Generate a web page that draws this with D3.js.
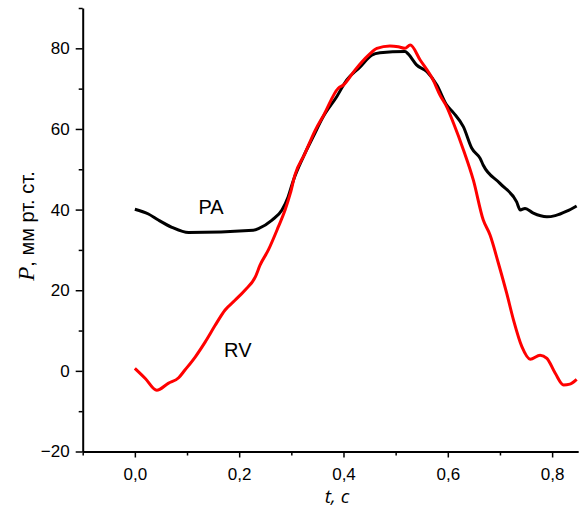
<!DOCTYPE html>
<html>
<head>
<meta charset="utf-8">
<script src="https://cdn.jsdelivr.net/npm/d3@7"></script>
<style>
  body { margin: 0; background: #fff; }
  svg { display: block; }
  .axis text { font-family: "Liberation Sans", Arial, sans-serif; font-size: 17px; fill: #000; }
  .axis path, .axis line { stroke: #000; }
</style>
</head>
<body>
<svg id="chart" width="583" height="510"></svg>
<script>
// time (s) and pressure (mm Hg)
var paTime = [0, 0.026, 0.045, 0.071, 0.103, 0.227, 0.237, 0.263, 0.282, 0.294, 0.304, 0.323, 0.342, 0.361, 0.387,
  0.406, 0.432, 0.454, 0.470, 0.518, 0.524, 0.540, 0.560, 0.579, 0.598, 0.611, 0.630, 0.646, 0.662, 0.668,
  0.700, 0.732, 0.739, 0.748, 0.764, 0.790, 0.806, 0.828, 0.847];
var paValue = [40.1, 38.9, 37.4, 35.6, 34.3, 34.9, 35.3, 37.4, 39.9, 43.2, 47.3, 53.1, 58.1, 63.0, 68.0,
  72.1, 75.4, 78.3, 78.9, 79.2, 78.6, 75.9, 74.2, 70.9, 65.9, 64.0, 60.5, 55.2, 52.7, 51.0,
  46.5, 41.9, 39.9, 40.3, 39.1, 38.2, 38.5, 39.6, 40.9];

var rvTime = [0, 0.020, 0.042, 0.064, 0.084, 0.096, 0.116, 0.135, 0.154, 0.173, 0.192, 0.211, 0.231, 0.240,
  0.256, 0.275, 0.288, 0.298, 0.307, 0.326, 0.346, 0.362, 0.390, 0.400, 0.422, 0.448, 0.464, 0.489, 0.505,
  0.518, 0.528, 0.547, 0.572, 0.585, 0.598, 0.611, 0.630, 0.649, 0.668, 0.681, 0.697, 0.713, 0.726, 0.742,
  0.758, 0.777, 0.790, 0.806, 0.822, 0.834, 0.847];
var rvValue = [0.6, -1.9, -4.8, -3.1, -1.7, 0.2, 3.5, 7.2, 11.3, 15.1, 17.5, 20.0, 23.3, 26.2,
  30.0, 35.7, 39.9, 44.0, 48.6, 53.9, 59.7, 63.4, 70.1, 70.9, 74.6, 78.3, 80.0, 80.6, 80.4,
  80.0, 80.8, 77.1, 72.1, 68.4, 65.5, 61.4, 54.8, 47.3, 37.4, 33.7, 26.7, 19.2, 12.6, 6.0,
  2.9, 3.9, 3.1, -0.6, -3.5, -3.3, -2.1];

var xTicks = [0, 0.2, 0.4, 0.6, 0.8];
var xMinor = [-0.1, 0.1, 0.3, 0.5, 0.7];
var yTicks = [-20, 0, 20, 40, 60, 80];
var yMinor = [-10, 10, 30, 50, 70, 90];

var svg = d3.select("#chart");

var x = d3.scaleLinear().domain([-0.1, 0.85]).range([82.7, 578.2]);
var y = d3.scaleLinear().domain([-20, 90]).range([451.5, 8]);

var fmt = function (d) { return d3.format(".1f")(d).replace(".", ",").replace("-", "\u2212"); };

// minor ticks first, no labels
svg.append("g")
  .attr("class", "axis")
  .attr("transform", "translate(0," + y(-20) + ")")
  .call(d3.axisBottom(x).tickValues(xMinor).tickSize(4).tickFormat(""))
  .call(function (g) { g.select(".domain").remove(); g.selectAll("line").attr("stroke-width", 1.5); });

svg.append("g")
  .attr("class", "axis")
  .attr("transform", "translate(" + x(-0.1) + ",0)")
  .call(d3.axisLeft(y).tickValues(yMinor).tickSize(4).tickFormat(""))
  .call(function (g) { g.select(".domain").remove(); g.selectAll("line").attr("stroke-width", 1.5); });

svg.append("g")
  .attr("class", "axis")
  .attr("transform", "translate(0," + y(-20) + ")")
  .call(d3.axisBottom(x).tickValues(xTicks).tickSize(6).tickSizeOuter(0).tickPadding(10).tickFormat(fmt))
  .call(function (g) {
    g.select(".domain").attr("stroke-width", 2);
    g.selectAll("line").attr("stroke-width", 1.5);
  });

svg.append("g")
  .attr("class", "axis")
  .attr("transform", "translate(" + x(-0.1) + ",0)")
  .call(d3.axisLeft(y).tickValues(yTicks).tickSize(7).tickSizeOuter(0).tickPadding(6)
    .tickFormat(function (d) { return String(d).replace("-", "\u2212"); }))
  .call(function (g) {
    g.select(".domain").attr("stroke-width", 2);
    g.selectAll("line").attr("stroke-width", 1.5);
  });

var line = d3.line()
  .x(function (d) { return x(d[0]); })
  .y(function (d) { return y(d[1]); })
  .curve(d3.curveMonotoneX);

svg.append("path")
  .datum(d3.zip(paTime, paValue))
  .attr("fill", "none")
  .attr("stroke", "#000")
  .attr("stroke-width", 3)
  .attr("stroke-linejoin", "round")
  .attr("d", line);

svg.append("path")
  .datum(d3.zip(rvTime, rvValue))
  .attr("fill", "none")
  .attr("stroke", "#ff0000")
  .attr("stroke-width", 3)
  .attr("stroke-linejoin", "round")
  .attr("d", line);

// series labels
svg.append("text")
  .attr("x", x(0.122)).attr("y", y(38.9))
  .attr("font-family", "Liberation Sans, Arial, sans-serif")
  .attr("font-size", 20)
  .text("PA");

svg.append("text")
  .attr("x", x(0.171)).attr("y", y(3.5))
  .attr("font-family", "Liberation Sans, Arial, sans-serif")
  .attr("font-size", 20)
  .text("RV");

// axis titles
svg.append("text")
  .attr("x", 337).attr("y", 503)
  .attr("text-anchor", "middle")
  .attr("font-family", "Open Sans, sans-serif")
  .attr("font-style", "italic")
  .attr("font-size", 19)
  .text("t, c");

var yt = svg.append("text")
  .attr("transform", "translate(34,226) rotate(-90)")
  .attr("text-anchor", "middle")
  .attr("font-family", "Liberation Sans, Arial, sans-serif")
  .attr("font-size", 20);
yt.append("tspan")
  .attr("font-family", "Liberation Serif, Times New Roman, serif")
  .attr("font-style", "italic")
  .attr("font-size", 23)
  .text("P");
yt.append("tspan").text(", мм рт. ст.");
</script>
</body>
</html>
